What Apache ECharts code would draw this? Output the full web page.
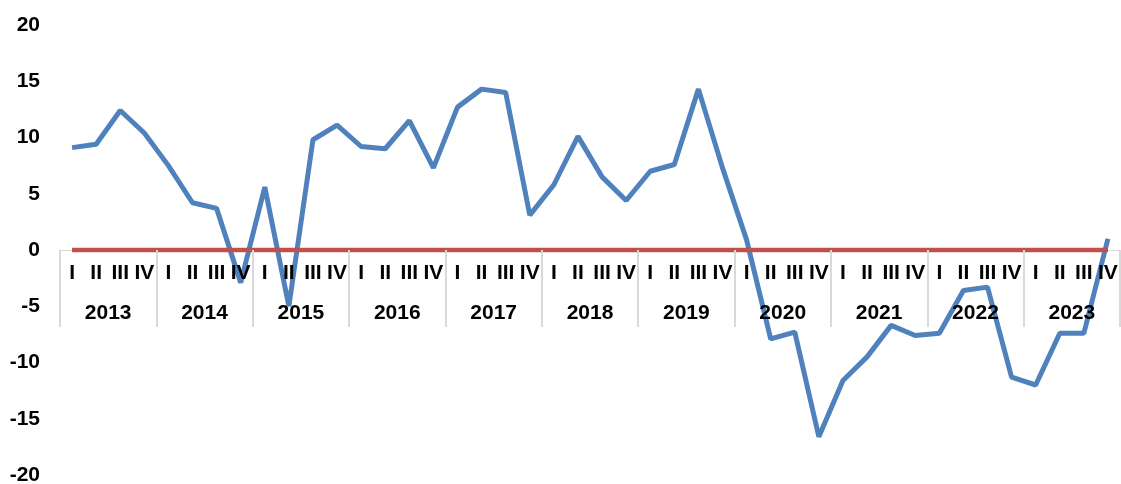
<!DOCTYPE html>
<html>
<head>
<meta charset="utf-8">
<script src="https://cdn.jsdelivr.net/npm/echarts@6/dist/echarts.min.js"></script>
<style>
html,body{margin:0;padding:0;background:#fff;}
#chart{width:1121px;height:484px;}
</style>
</head>
<body>
<div id="chart"></div>
<script>
var years = ['2013','2014','2015','2016','2017','2018','2019','2020','2021','2022','2023'];
var quarterLabels = ['I','II','III','IV'];
var values = [
  9.1, 9.4, 12.4, 10.4,
  7.5, 4.2, 3.7, -2.9,
  5.6, -5.0, 9.8, 11.1,
  9.2, 9.0, 11.5, 7.3,
  12.7, 14.3, 14.0, 3.1,
  5.8, 10.1, 6.5, 4.4,
  7.0, 7.6, 14.3, 7.3,
  0.9, -7.9, -7.3, -16.6,
  -11.6, -9.5, -6.7, -7.6,
  -7.4, -3.6, -3.3, -11.3,
  -12.0, -7.4, -7.4, 1.0
];
var zeroLine = values.map(function(){ return 0; });

var quarters = [];
years.forEach(function(y){ quarterLabels.forEach(function(q){ quarters.push(q); }); });

var font = 'Liberation Sans, Arial, sans-serif';
var chart = echarts.init(document.getElementById('chart'));
chart.setOption({
  animation: false,
  grid: [
    {left: 60, right: 1, top: 25, bottom: 9, containLabel: false, outerBoundsMode: 'none'},
    {left: 60, right: 1, top: 25, height: 225, containLabel: false, outerBoundsMode: 'none'}
  ],
  xAxis: [
    {
      gridIndex: 0,
      type: 'category',
      data: quarters,
      boundaryGap: true,
      axisLine: {show: false, onZero: false},
      axisTick: {show: false},
      axisLabel: {show: false},
      splitLine: {show: false}
    },
    {
      gridIndex: 1,
      type: 'category',
      position: 'bottom',
      data: quarters,
      boundaryGap: true,
      z: 0,
      axisLine: {onZero: false, lineStyle: {color: '#d9d9d9', width: 1}},
      axisTick: {show: false},
      axisLabel: {show: false},
      splitLine: {show: false}
    },
    {
      gridIndex: 1,
      type: 'category',
      position: 'bottom',
      data: quarters,
      boundaryGap: true,
      z: 10,
      axisLine: {show: false, onZero: false},
      axisTick: {show: false},
      axisLabel: {interval: 0, margin: 13, color: '#000', fontFamily: font, fontWeight: 'bold', fontSize: 21},
      splitLine: {show: false}
    },
    {
      gridIndex: 1,
      type: 'category',
      position: 'bottom',
      data: years,
      boundaryGap: true,
      z: 10,
      axisLine: {show: false, onZero: false},
      axisTick: {show: true, length: 77, lineStyle: {color: '#d9d9d9', width: 2}},
      axisLabel: {interval: 0, margin: 53, color: '#000', fontFamily: font, fontWeight: 'bold', fontSize: 21},
      splitLine: {show: false}
    }
  ],
  yAxis: [
    {
      gridIndex: 0,
      type: 'value',
      min: -20, max: 20, interval: 5,
      axisLine: {show: false},
      axisTick: {show: false},
      splitLine: {show: false},
      axisLabel: {margin: 20, color: '#000', fontFamily: font, fontWeight: 'bold', fontSize: 21}
    },
    {
      gridIndex: 1,
      type: 'value',
      min: 0, max: 20,
      show: false
    }
  ],
  series: [
    {
      type: 'line',
      xAxisIndex: 0,
      yAxisIndex: 0,
      data: values,
      symbol: 'none',
      lineStyle: {color: '#4F81BD', width: 5},
      z: 2
    },
    {
      type: 'line',
      xAxisIndex: 0,
      yAxisIndex: 0,
      data: zeroLine,
      symbol: 'none',
      lineStyle: {color: '#C0504D', width: 4.5},
      z: 3
    }
  ]
});
</script>
</body>
</html>
